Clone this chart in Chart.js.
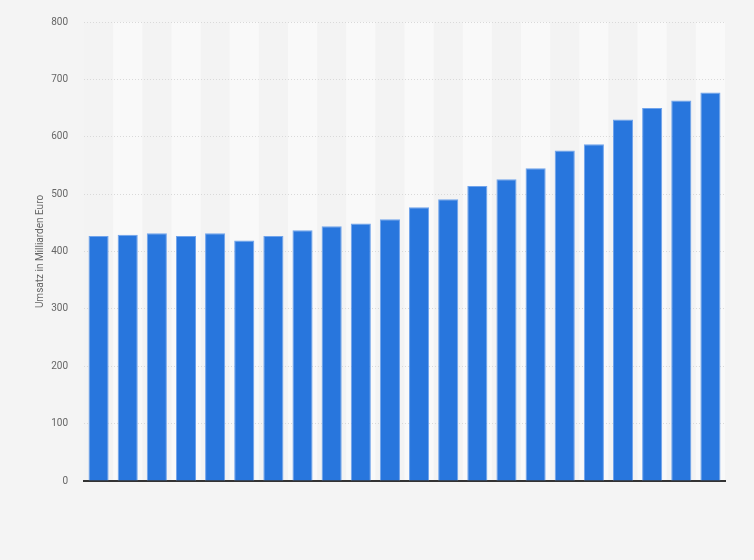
<!DOCTYPE html>
<html>
<head>
<meta charset="utf-8">
<script src="https://cdn.jsdelivr.net/npm/chart.js@4"></script>
<style>
  html, body { margin: 0; padding: 0; background: #f4f4f4; }
  #wrap { width: 754px; height: 560px; }
</style>
</head>
<body>
<div id="wrap"><canvas id="chart"></canvas></div>
<script>
// categories (x labels are hidden in the reference)
var years = ['2000','2001','2002','2003','2004','2005','2006','2007','2008','2009','2010',
             '2011','2012','2013','2014','2015','2016','2017','2018','2019','2020','2021'];
// Umsatz in Milliarden Euro
var umsatz = [427, 429, 432, 427, 432, 419, 427, 437, 444, 449, 456,
              477, 491, 514, 526, 545, 576, 587, 630, 650, 663, 677];
var yTicks = [0, 100, 200, 300, 400, 500, 600, 700, 800];

// alternating column bands behind the bars
var stripes = {
    id: 'stripes',
    beforeDraw: (chart) => {
        var ctx = chart.ctx, area = chart.chartArea, x = chart.scales.x;
        ctx.save();
        ctx.fillStyle = '#f3f3f3';
        ctx.fillRect(area.left, area.top, area.right - area.left, area.bottom - area.top);
        var w = (area.right - area.left) / years.length;
        ctx.fillStyle = '#f9f9f9';
        for (var i = 1; i < years.length; i += 2) {
            var cx = x.getPixelForValue(i);
            ctx.fillRect(cx - w / 2, area.top, w, area.bottom - area.top);
        }
        ctx.restore();
    }
};

var ctx = document.getElementById('chart').getContext('2d');
var myChart = new Chart(ctx, {
    type: 'bar',
    data: {
        labels: years,
        datasets: [{
            data: umsatz,
            backgroundColor: '#2876dd',
            borderColor: '#6fa3ec',
            borderWidth: 1,
            barPercentage: 0.69,
            categoryPercentage: 1
        }]
    },
    options: {
        responsive: true,
        maintainAspectRatio: false,
        animation: false,
        layout: { padding: { left: 0, right: 29, top: 18, bottom: 79 } },
        plugins: {
            legend: { display: false },
            tooltip: { enabled: false }
        },
        scales: {
            x: {
                ticks: { display: false },
                grid: { display: false },
                border: { display: true, color: '#333333', width: 2 },
                afterFit: (scale) => { scale.height = 0; }
            },
            y: {
                min: 0,
                max: 800,
                afterBuildTicks: (scale) => { scale.ticks = yTicks.map(v => ({ value: v })); },
                ticks: {
                    color: '#666666',
                    padding: 16,
                    font: { family: 'Roboto', size: 10 }
                },
                grid: {
                    color: '#d9d9d9',
                    drawTicks: false
                },
                border: { display: false, dash: [1, 2] },
                title: {
                    display: true,
                    text: 'Umsatz in Milliarden Euro',
                    color: '#666666',
                    font: { family: 'Roboto', size: 10 },
                    padding: { top: 34, bottom: 0 }
                },
                afterFit: (scale) => { scale.width = 84; }
            }
        }
    },
    plugins: [stripes]
});
</script>
</body>
</html>
